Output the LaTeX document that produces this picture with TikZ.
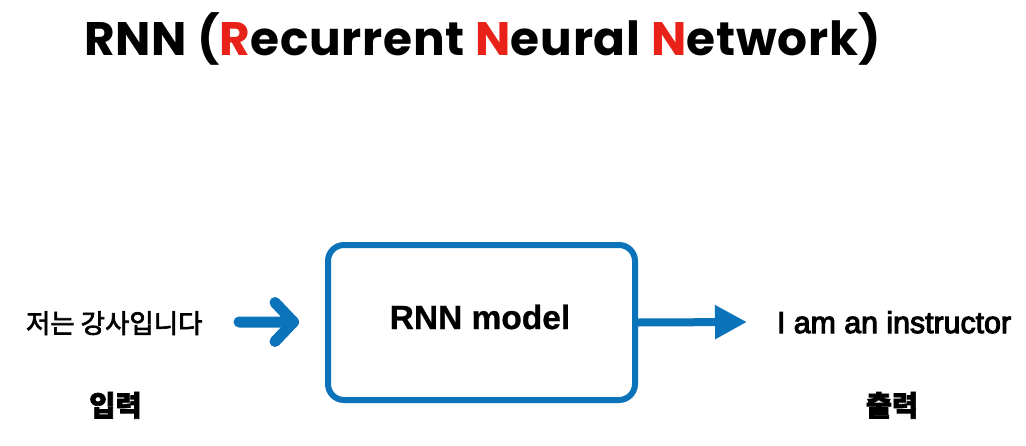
\documentclass[tikz,border=0pt]{standalone}
\usepackage{fontspec}
\usetikzlibrary{arrows.meta,shadows}
\setmainfont{Liberation Sans}
\newfontfamily\titlefont{Poppins}[BoldFeatures={LetterSpace=1.6}]
\newfontfamily\krfont{Noto Sans CJK KR}[FakeBold=2.5]
\newfontfamily\krheavy{Noto Sans CJK KR}[BoldFeatures={FakeBold=2.5}]
\newfontfamily\latmed{Liberation Sans}[FakeBold=3.5]
\newfontfamily\latbold{Liberation Sans}[BoldFeatures={FakeBold=0.8}]
\definecolor{blueC}{RGB}{11,115,186}
\definecolor{redC}{RGB}{232,34,24}
\begin{document}
\begin{tikzpicture}[x=1pt,y=-1pt,
  txt/.style={inner sep=0pt, outer sep=0pt, text=black},
  modelbox/.style={draw=blueC, line width=6pt, rounded corners=16pt, fill=white,
    minimum width=307pt, minimum height=155pt, inner sep=0pt,
    drop shadow={opacity=0.15, shadow xshift=1pt, shadow yshift=-2.5pt}},
  chev/.style={draw=blueC, line width=11pt, line cap=round, line join=round},
  outarrow/.style={draw=blueC, line width=8pt, -{Triangle[length=32pt,width=32pt]}}
]
\useasboundingbox (0,0) rectangle (1026,445);
\node[txt, anchor=base west, font=\titlefont\bfseries\fontsize{47}{50}\selectfont] (title) at (84,55)
  {RNN (\textcolor{redC}{R}ecurrent \textcolor{redC}{N}eural \textcolor{redC}{N}etwork)};
\node[modelbox] (model) at (481.5,322.5) {};
\node[txt, anchor=base, font=\latbold\bfseries\fontsize{33.5}{36}\selectfont] (modellabel) at (480,329) {RNN model};
\node[txt, anchor=base west, font=\krfont\fontsize{26.5}{30}\selectfont] (input) at (26,333) {저는 강사입니다};
\node[txt, anchor=base, font=\krheavy\bfseries\fontsize{28.5}{30}\selectfont] (inlabel) at (115.5,416) {입력};
\node[txt, anchor=base west, font=\latmed\fontsize{30.3}{34}\selectfont] (output) at (777,333) {I am an instructor};
\node[txt, anchor=base, font=\krheavy\bfseries\fontsize{28.5}{30}\selectfont] (outlabel) at (892,416) {출력};
\coordinate (lstart) at (239,322);
\coordinate (ltip) at (293.5,322);
\draw[chev] (lstart) -- (ltip) -- ++(-18.5,-19.5);
\draw[chev] (ltip) -- ++(-18.5,19.5);
\coordinate (rtip) at (747,322);
\draw[outarrow] (model.east) -- (rtip);
\end{tikzpicture}
\end{document}
